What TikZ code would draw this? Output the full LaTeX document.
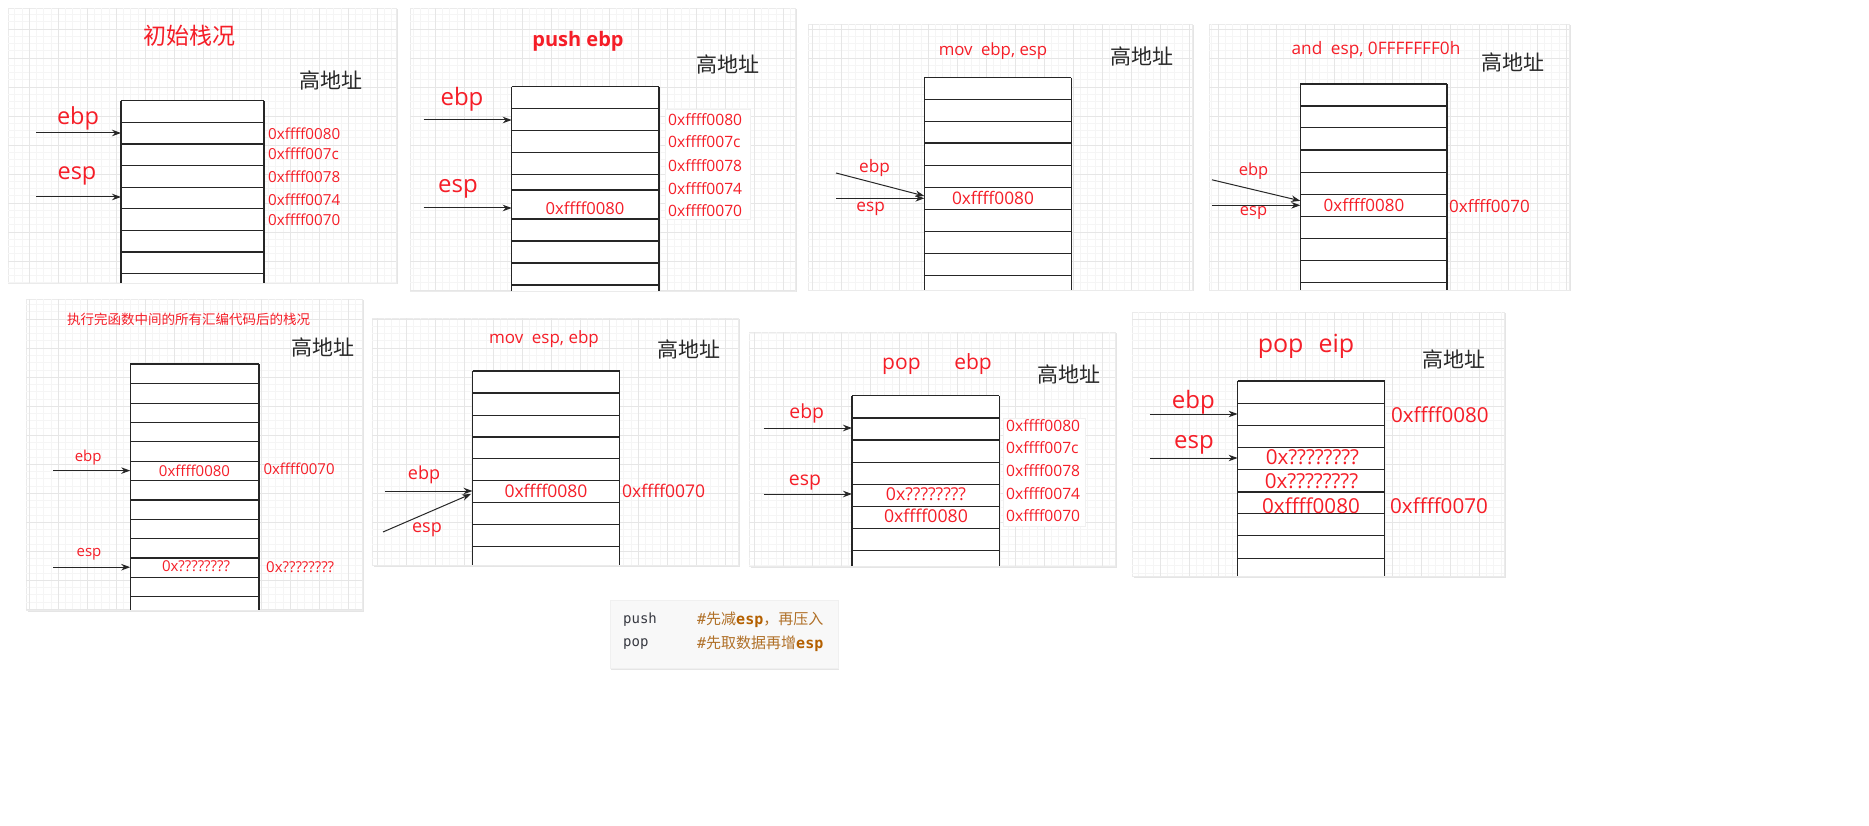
\documentclass[tikz,border=0pt]{standalone}
\usepackage{fontspec}
\setmainfont{Open Sans}
\newfontfamily\cjk{Noto Sans CJK SC}
\newfontfamily\codefont{DejaVu Sans Mono}
\usetikzlibrary{arrows.meta,shadows}
\definecolor{labelred}{RGB}{245,30,40}
\definecolor{gridminor}{RGB}{245,245,245}
\definecolor{gridmajor}{RGB}{230,230,230}
\definecolor{highgray}{RGB}{40,40,40}
\definecolor{codegray}{RGB}{56,58,66}
\definecolor{codebrown}{RGB}{176,112,40}
\definecolor{codeorange}{RGB}{180,96,0}
\newcommand\fsz[1]{\fontsize{#1}{#1}\selectfont}
\tikzset{
  panel/.style={fill=white, draw=black!8, drop shadow={opacity=0.2, shadow xshift=1.5pt, shadow yshift=-1.5pt}},
  addrbox/.style={fill=white, draw=black!6, drop shadow={opacity=0.15, shadow xshift=1pt, shadow yshift=-1pt}},
  cell/.style={draw=black!85, line width=1.3pt},
  ptr/.style={-{Stealth[length=9pt,width=6.5pt]}, line width=1pt, draw=black!85},
  reg/.style={text=labelred, inner sep=0pt, font=\fsz{#1}},
  addr/.style={text=labelred, inner sep=0pt, anchor=west, font=\fsz{#1}},
  high/.style={text=highgray, inner sep=0pt, font=\cjk\fsz{21}},
  code/.style={anchor=west, inner sep=0pt, font=\codefont\fsz{14}}
}
\begin{document}
\begin{tikzpicture}[x=1pt,y=-1pt]
    \fill[white] (0,0) rectangle (1869,826);

    % Panels with grid
    \foreach \xa/\ya/\xb/\yb in {8/8/396/283, 410/8/795/291, 808/24/1192/290, 1209/24/1569/290,
        26/299/362/610, 372/318/738/565, 749/332/1115/566, 1132/312/1504/576} {
      \path[panel] (\xa,\ya) rectangle (\xb,\yb);
      \begin{scope}
        \clip (\xa,\ya) rectangle (\xb,\yb);
        \draw[gridminor, line width=0.5pt, step=7.25pt] (\xa,\ya) grid (\xb,\yb);
        \draw[gridmajor, line width=0.8pt, step=29pt] (\xa,\ya) grid (\xb,\yb);
      \end{scope}
    }

    % Address boxes
    \path[addrbox] (665,109) rectangle (750,219);
    \path[addrbox] (1003,418) rectangle (1085,526);

    % Stacks
    \fill[white] (121,100.8) rectangle (264,283);
    \foreach \y in {100.8,122.4,144,165.6,187.2,208.8,230.4,252,273.6} \draw[cell] (121,\y) -- (264,\y);
    \draw[cell] (121,100.8) -- (121,283) (264,100.8) -- (264,283);

    \fill[white] (511.7,86.8) rectangle (659,291);
    \foreach \y in {86.8,108.7,130.5,152.7,174.8,190,219,241,263,285} \draw[cell] (511.7,\y) -- (659,\y);
    \draw[cell] (511.7,86.8) -- (511.7,291) (659,86.8) -- (659,291);

    \fill[white] (924.4,77.6) rectangle (1071.4,290);
    \foreach \y in {77.6,99.4,121.3,143.1,165.3,187.7,209.5,231.6,253.5,275.5} \draw[cell] (924.4,\y) -- (1071.4,\y);
    \draw[cell] (924.4,77.6) -- (924.4,290) (1071.4,77.6) -- (1071.4,290);

    \fill[white] (1300.3,84) rectangle (1447,290);
    \foreach \y in {84,105.9,127.7,149.9,172.3,194.7,216.5,238.4,260.3,282.2} \draw[cell] (1300.3,\y) -- (1447,\y);
    \draw[cell] (1300.3,84) -- (1300.3,290) (1447,84) -- (1447,290);

    \fill[white] (130.2,364.1) rectangle (259,610);
    \foreach \y in {364.1,383.8,403.4,422.4,441.7,461.3,480.4,500,519.4,538.6,558,577.2,596.5} \draw[cell] (130.2,\y) -- (259,\y);
    \draw[cell] (130.2,364.1) -- (130.2,610) (259,364.1) -- (259,610);

    \fill[white] (472.5,371.1) rectangle (619.6,565);
    \foreach \y in {371.1,393,415.4,437,458.8,480.7,502.6,524.5,546.4} \draw[cell] (472.5,\y) -- (619.6,\y);
    \draw[cell] (472.5,371.1) -- (472.5,565) (619.6,371.1) -- (619.6,565);

    \fill[white] (852,395.8) rectangle (999.4,566);
    \foreach \y in {395.8,417.9,440,462.2,484.3,506.4,528.5,550.6} \draw[cell] (852,\y) -- (999.4,\y);
    \draw[cell] (852,395.8) -- (852,566) (999.4,395.8) -- (999.4,566);

    \fill[white] (1237.6,380.9) rectangle (1384.6,575.6);
    \foreach \y in {380.9,403.3,425.2,447.3,469.7,492.1,513.4,535.8,558.2} \draw[cell] (1237.6,\y) -- (1384.6,\y);
    \draw[cell] (1237.6,380.9) -- (1237.6,575.6) (1384.6,380.9) -- (1384.6,575.6);

    % Panel 1: start
    \node[reg=23, font=\cjk\fsz{23}] (p1title) at (189,36) {初始栈况};
    \node[high] (p1high) at (331,80) {高地址};
    \node[reg=23.5] (p1ebp) at (78,118) {ebp};
    \node[reg=23.5] (p1esp) at (77,176) {esp};
    \node[addr=15.2] (p1a80) at (268,133.6) {0xffff0080};
    \node[addr=15.2] (p1a7c) at (268,153.5) {0xffff007c};
    \node[addr=15.2] (p1a78) at (268,177) {0xffff0078};
    \node[addr=15.2] (p1a74) at (268,199.4) {0xffff0074};
    \node[addr=15.2] (p1a70) at (268,220) {0xffff0070};
    \coordinate (p1ebpS) at (36,133); \coordinate (p1ebpT) at (121,133);
    \coordinate (p1espS) at (36,197); \coordinate (p1espT) at (121,197);
    \draw[ptr] (p1ebpS) -- (p1ebpT);
    \draw[ptr] (p1espS) -- (p1espT);

    % Panel 2: push ebp
    \node[reg=20, font=\bfseries\fsz{20}] (p2title) at (578,41) {push ebp};
    \node[high] (p2high) at (728,64.4) {高地址};
    \node[reg=24] (p2ebp) at (462,99) {ebp};
    \node[reg=24] (p2esp) at (458,189) {esp};
    \node[reg=16.6] (p2val) at (585,208) {0xffff0080};
    \node[addr=15.6] (p2a80) at (668,120) {0xffff0080};
    \node[addr=15.6] (p2a7c) at (668,142) {0xffff007c};
    \node[addr=15.6] (p2a78) at (668,165.3) {0xffff0078};
    \node[addr=15.6] (p2a74) at (668,188.5) {0xffff0074};
    \node[addr=15.6] (p2a70) at (668,210.4) {0xffff0070};
    \coordinate (p2ebpS) at (423.5,120); \coordinate (p2ebpT) at (511.7,120);
    \coordinate (p2espS) at (423.5,208); \coordinate (p2espT) at (511.7,208);
    \draw[ptr] (p2ebpS) -- (p2ebpT);
    \draw[ptr] (p2espS) -- (p2espT);

    % Panel 3: mov ebp, esp
    \node[reg=16.8] (p3title) at (993,51) {mov\hspace{0.5em}ebp, esp};
    \node[high] (p3high) at (1141.5,56) {高地址};
    \node[reg=17.2] (p3ebp) at (874.5,168) {ebp};
    \node[reg=17.2] (p3esp) at (870.6,208.7) {esp};
    \node[reg=17.3] (p3val) at (993,198) {0xffff0080};
    \coordinate (p3ebpS) at (836,173); \coordinate (p3ebpT) at (924.4,196);
    \coordinate (p3espS) at (836,198.3); \coordinate (p3espT) at (924.4,198.3);
    \draw[ptr] (p3ebpS) -- (p3ebpT);
    \draw[ptr] (p3espS) -- (p3espT);

    % Panel 4: and esp
    \node[reg=17.2] (p4title) at (1376,50) {and\hspace{0.5em}esp, 0FFFFFFF0h};
    \node[high] (p4high) at (1513,62) {高地址};
    \node[reg=16.5] (p4ebp) at (1253.5,170.9) {ebp};
    \node[reg=16.5] (p4esp) at (1253.5,212.9) {esp};
    \node[reg=17] (p4val) at (1364,205) {0xffff0080};
    \node[addr=17] (p4a70) at (1449,206) {0xffff0070};
    \coordinate (p4ebpS) at (1212,179.8); \coordinate (p4ebpT) at (1300.3,200.8);
    \coordinate (p4espS) at (1212,205.3); \coordinate (p4espT) at (1300.3,205.3);
    \draw[ptr] (p4ebpS) -- (p4ebpT);
    \draw[ptr] (p4espS) -- (p4espT);

    % Panel 5: after the function body
    \node[reg=13.5, font=\cjk\fsz{13.5}] (p5title) at (188.5,319) {执行完函数中间的所有汇编代码后的栈况};
    \node[high] (p5high) at (323,347) {高地址};
    \node[reg=15] (p5ebp) at (88.2,457.4) {ebp};
    \node[reg=15] (p5esp) at (89,554.6) {esp};
    \node[reg=15] (p5val) at (194.5,470.6) {0xffff0080};
    \node[addr=15] (p5a70) at (263.3,468.5) {0xffff0070};
    \node[reg=15] (p5unk) at (196,566.5) {0x????????};
    \node[addr=15] (p5aunk) at (266,567.5) {0x????????};
    \coordinate (p5ebpS) at (53.2,470.6); \coordinate (p5ebpT) at (130.2,470.6);
    \coordinate (p5espS) at (53.2,567.2); \coordinate (p5espT) at (130.2,567.2);
    \draw[ptr] (p5ebpS) -- (p5ebpT);
    \draw[ptr] (p5espS) -- (p5espT);

    % Panel 6: mov esp, ebp
    \node[reg=17] (p6title) at (544,339) {mov\hspace{0.5em}esp, ebp};
    \node[high] (p6high) at (689,349) {高地址};
    \node[reg=18] (p6ebp) at (424,475) {ebp};
    \node[reg=18] (p6esp) at (427,530) {esp};
    \node[reg=17.5] (p6val) at (546,491) {0xffff0080};
    \node[addr=17.5] (p6a70) at (622,491) {0xffff0070};
    \coordinate (p6ebpS) at (385,491); \coordinate (p6ebpT) at (472.5,491);
    \coordinate (p6espS) at (383,532); \coordinate (p6espT) at (471,494);
    \draw[ptr] (p6ebpS) -- (p6ebpT);
    \draw[ptr] (p6espS) -- (p6espT);

    % Panel 7: pop ebp
    \node[reg=21] (p7title) at (937,364) {pop\hspace{1.6em}ebp};
    \node[high] (p7high) at (1069,374.6) {高地址};
    \node[reg=19.4] (p7ebp) at (806.7,413.2) {ebp};
    \node[reg=19.4] (p7esp) at (805,483) {esp};
    \node[reg=17.7] (p7unk) at (926,494) {0x????????};
    \node[reg=17.7] (p7val) at (926,516) {0xffff0080};
    \node[addr=15.6] (p7a80) at (1006,426) {0xffff0080};
    \node[addr=15.6] (p7a7c) at (1006,448) {0xffff007c};
    \node[addr=15.6] (p7a78) at (1006,471) {0xffff0078};
    \node[addr=15.6] (p7a74) at (1006,494) {0xffff0074};
    \node[addr=15.6] (p7a70) at (1006,516) {0xffff0070};
    \coordinate (p7ebpS) at (763.8,428); \coordinate (p7ebpT) at (852,428);
    \coordinate (p7espS) at (763.8,494); \coordinate (p7espT) at (852,494);
    \draw[ptr] (p7ebpS) -- (p7ebpT);
    \draw[ptr] (p7espS) -- (p7espT);

    % Panel 8: pop eip
    \node[reg=25] (p8title) at (1306,345.9) {pop\hspace{0.6em}eip};
    \node[high] (p8high) at (1454,359) {高地址};
    \node[reg=24] (p8ebp) at (1193.3,401.9) {ebp};
    \node[reg=24] (p8esp) at (1193.9,445.3) {esp};
    \node[addr=20.6] (p8a80) at (1390.8,414.5) {0xffff0080};
    \node[addr=20.6] (p8a70) at (1390,505.6) {0xffff0070};
    \node[reg=20.6] (p8unka) at (1312.4,457.1) {0x????????};
    \node[reg=20.6] (p8unkb) at (1311.5,481.2) {0x????????};
    \node[reg=20.6] (p8val) at (1311,505.6) {0xffff0080};
    \coordinate (p8ebpS) at (1149.9,414); \coordinate (p8ebpT) at (1237.6,414);
    \coordinate (p8espS) at (1149.9,458); \coordinate (p8espT) at (1237.6,458);
    \draw[ptr] (p8ebpS) -- (p8ebpT);
    \draw[ptr] (p8espS) -- (p8espT);

    % Code note
    \path[fill={rgb,255:red,248;green,248;blue,248}, draw=black!6, drop shadow={opacity=0.2, shadow xshift=1pt, shadow yshift=-1.5pt}] (610,600) rectangle (838,668);
    \node[code, text=codegray] (pushop) at (623,620) {push};
    \node[code, text=codegray] (popop) at (623,644) {pop};
    \node[code, text=codebrown, font=\codefont\fsz{15}] (pushnote) at (697,620) {\#{\cjk 先减}{\bfseries\color{codeorange}esp}{\cjk ，再压入}};
    \node[code, text=codebrown, font=\codefont\fsz{15}] (popnote) at (697,644) {\#{\cjk 先取数据再增}{\bfseries\color{codeorange}esp}};

    \pgfresetboundingbox
    \path[use as bounding box] (0,0) rectangle (1869,826);
\end{tikzpicture}
\end{document}
